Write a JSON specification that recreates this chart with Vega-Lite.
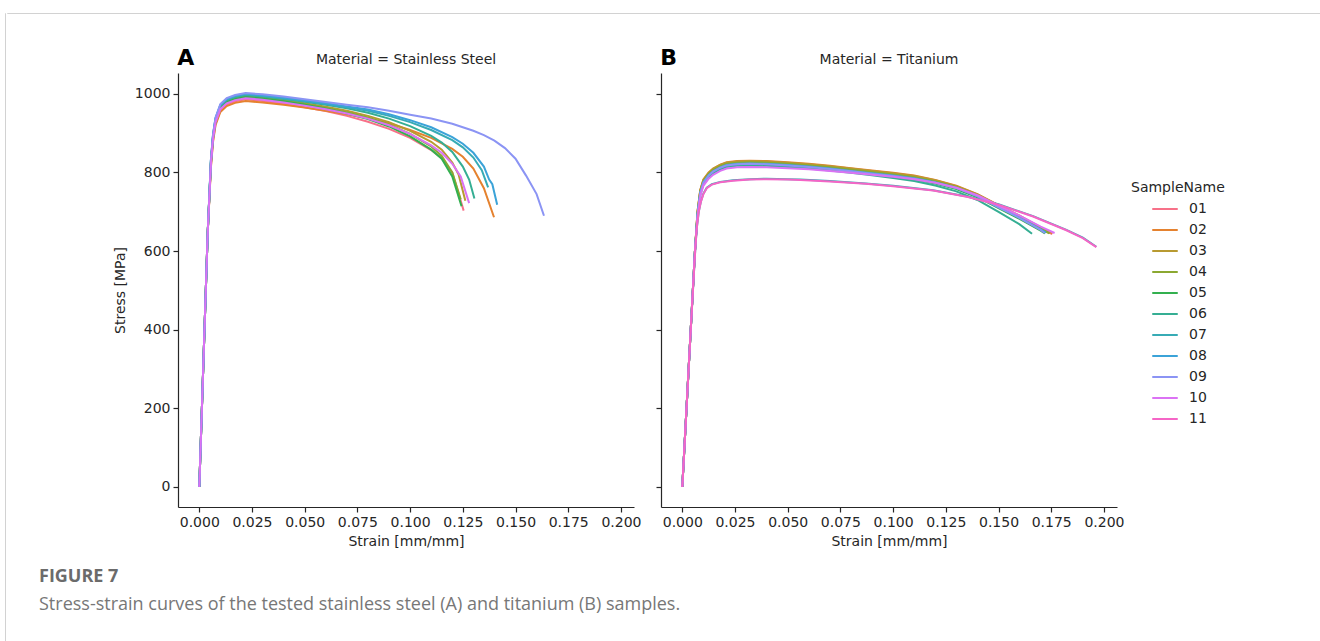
{
  "$schema": "https://vega.github.io/schema/vega-lite/v6.json",
  "background": "white",
  "padding": {"left": 4, "top": 12, "right": 0, "bottom": 0},
  "config": {
    "font": "DejaVu Sans",
    "view": {"stroke": null},
    "axis": {"grid": false, "domainColor": "#262626", "tickColor": "#262626", "labelColor": "#262626", "titleColor": "#262626", "labelFontSize": 14, "titleFontSize": 14, "titleFontWeight": "normal", "tickSize": 5, "domainWidth": 1.2, "tickWidth": 1.2, "labelPadding": 3, "labelFlush": false, "labelOverlap": false},
    "legend": {"symbolType": "stroke", "symbolStrokeWidth": 2, "symbolSize": 650, "labelFontSize": 14, "titleFontSize": 14, "titleFontWeight": "normal", "labelColor": "#262626", "titleColor": "#262626", "labelOffset": 10, "symbolOffset": 20, "titlePadding": 0, "rowPadding": 0},
    "title": {"fontWeight": "normal", "fontSize": 14, "color": "#262626"}
  },
  "data": {"values": [
    {"Material": "Stainless Steel", "SampleName": "01", "Strain": [0,0.002,0.004,0.0055,0.0065,0.0077,0.01,0.013,0.017,0.022,0.03,0.04,0.05,0.06,0.07,0.08,0.09,0.1,0.11,0.115,0.12,0.1254], "Stress": [0,324,648,816,881,924,958,973,981,986,982,975,966,956,944,929,911,888,857,836,800,703]},
    {"Material": "Stainless Steel", "SampleName": "02", "Strain": [0,0.002,0.004,0.0055,0.0065,0.0077,0.01,0.013,0.017,0.022,0.03,0.04,0.05,0.06,0.07,0.08,0.09,0.1,0.11,0.12,0.125,0.13,0.135,0.1398], "Stress": [0,324,648,812,877,920,954,969,977,982,978,972,965,957,948,938,925,908,888,860,840,810,760,686]},
    {"Material": "Stainless Steel", "SampleName": "03", "Strain": [0,0.002,0.004,0.0055,0.0065,0.0077,0.01,0.013,0.017,0.022,0.03,0.04,0.05,0.06,0.07,0.08,0.09,0.1,0.11,0.115,0.12,0.123,0.1262], "Stress": [0,324,648,824,889,932,966,981,989,994,990,984,976,967,957,944,928,906,878,858,825,795,728]},
    {"Material": "Stainless Steel", "SampleName": "04", "Strain": [0,0.002,0.004,0.0055,0.0065,0.0077,0.01,0.013,0.017,0.022,0.03,0.04,0.05,0.06,0.07,0.08,0.09,0.1,0.11,0.115,0.12,0.124], "Stress": [0,324,648,823,888,931,965,980,988,993,989,982,974,964,953,940,922,898,866,842,800,732]},
    {"Material": "Stainless Steel", "SampleName": "05", "Strain": [0,0.002,0.004,0.0055,0.0065,0.0077,0.01,0.013,0.017,0.022,0.03,0.04,0.05,0.06,0.07,0.08,0.09,0.1,0.11,0.115,0.12,0.1244], "Stress": [0,324,648,822,887,930,964,979,987,992,988,981,972,962,950,936,917,892,858,835,790,714]},
    {"Material": "Stainless Steel", "SampleName": "06", "Strain": [0,0.002,0.004,0.0055,0.0065,0.0077,0.01,0.013,0.017,0.022,0.03,0.04,0.05,0.06,0.07,0.08,0.09,0.1,0.11,0.115,0.12,0.125,0.128,0.1305], "Stress": [0,324,648,827,892,935,969,984,992,997,993,987,980,972,963,952,937,918,893,876,852,815,782,734]},
    {"Material": "Stainless Steel", "SampleName": "07", "Strain": [0,0.002,0.004,0.0055,0.0065,0.0077,0.01,0.013,0.017,0.022,0.03,0.04,0.05,0.06,0.07,0.08,0.09,0.1,0.11,0.12,0.125,0.13,0.134,0.137], "Stress": [0,324,648,829,894,937,971,986,994,999,995,989,982,974,966,957,944,928,908,882,864,838,806,762]},
    {"Material": "Stainless Steel", "SampleName": "08", "Strain": [0,0.002,0.004,0.0055,0.0065,0.0077,0.01,0.013,0.017,0.022,0.03,0.04,0.05,0.06,0.07,0.08,0.09,0.1,0.11,0.12,0.125,0.13,0.135,0.1375,0.139,0.1413], "Stress": [0,324,648,830,895,938,972,987,995,1000,996,990,983,976,968,960,948,933,915,890,873,850,815,782,770,718]},
    {"Material": "Stainless Steel", "SampleName": "09", "Strain": [0,0.002,0.004,0.0055,0.0065,0.0077,0.01,0.013,0.017,0.022,0.03,0.04,0.05,0.06,0.07,0.08,0.09,0.1,0.11,0.12,0.13,0.135,0.14,0.145,0.15,0.155,0.16,0.1635], "Stress": [0,324,648,832,897,940,974,989,997,1002,999,993,986,979,972,966,957,947,937,924,906,895,881,862,835,792,745,690]},
    {"Material": "Stainless Steel", "SampleName": "10", "Strain": [0,0.002,0.004,0.0055,0.0065,0.0077,0.01,0.013,0.017,0.022,0.03,0.04,0.05,0.06,0.07,0.08,0.09,0.1,0.11,0.115,0.12,0.124,0.128], "Stress": [0,324,648,819,884,927,961,976,984,989,985,978,970,961,950,937,920,898,869,850,822,790,722]},
    {"Material": "Titanium", "SampleName": "01", "Strain": [0,0.002,0.004,0.006,0.0072,0.0085,0.01,0.0125,0.0146,0.018,0.021,0.026,0.032,0.04,0.05,0.06,0.07,0.08,0.09,0.1,0.11,0.12,0.13,0.14,0.15,0.16,0.17,0.1755], "Stress": [0,200,400,600,697,752,779,797,807,817,823,826,827,826,823,819,814,808,802,796,789,778,764,743,715,688,658,643]},
    {"Material": "Titanium", "SampleName": "02", "Strain": [0,0.002,0.004,0.006,0.0072,0.0085,0.01,0.0125,0.0146,0.018,0.021,0.026,0.032,0.04,0.05,0.06,0.07,0.08,0.09,0.1,0.11,0.12,0.13,0.14,0.15,0.16,0.17,0.1755], "Stress": [0,200,400,600,700,755,782,800,810,820,826,829,830,829,826,822,817,811,805,799,792,781,766,745,717,690,660,645]},
    {"Material": "Titanium", "SampleName": "03", "Strain": [0,0.002,0.004,0.006,0.0072,0.0085,0.01,0.0125,0.0146,0.018,0.021,0.026,0.032,0.04,0.05,0.06,0.07,0.08,0.09,0.1,0.11,0.12,0.13,0.14,0.15,0.16,0.17,0.1745], "Stress": [0,200,400,600,699,754,781,799,809,819,825,828,829,828,825,821,816,810,804,798,791,780,765,744,716,689,659,646]},
    {"Material": "Titanium", "SampleName": "04", "Strain": [0,0.002,0.004,0.006,0.0072,0.0085,0.01,0.0125,0.0146,0.018,0.021,0.026,0.032,0.04,0.05,0.06,0.07,0.08,0.09,0.1,0.11,0.12,0.13,0.14,0.15,0.16,0.17,0.174], "Stress": [0,200,400,600,696,751,778,796,806,816,822,825,826,825,822,818,813,807,801,795,788,777,763,742,714,687,657,645]},
    {"Material": "Titanium", "SampleName": "05", "Strain": [0,0.002,0.004,0.006,0.0072,0.0085,0.01,0.0125,0.0146,0.018,0.021,0.026,0.032,0.04,0.05,0.06,0.07,0.08,0.09,0.1,0.11,0.12,0.13,0.14,0.15,0.16,0.17,0.172], "Stress": [0,200,400,600,690,745,772,790,800,810,816,819,820,819,816,812,807,801,795,789,782,772,758,737,709,682,652,645]},
    {"Material": "Titanium", "SampleName": "06", "Strain": [0,0.002,0.004,0.006,0.0072,0.0085,0.01,0.0125,0.0146,0.018,0.021,0.026,0.032,0.04,0.05,0.06,0.07,0.08,0.09,0.1,0.11,0.12,0.13,0.14,0.15,0.16,0.1659], "Stress": [0,200,400,600,688,743,770,788,798,808,814,817,818,817,814,810,805,799,793,786,778,767,752,730,700,668,644]},
    {"Material": "Titanium", "SampleName": "07", "Strain": [0,0.002,0.004,0.006,0.0068,0.0078,0.0088,0.01,0.0116,0.014,0.018,0.024,0.032,0.04,0.05,0.056,0.07,0.087,0.1,0.119,0.135,0.15,0.1664,0.1822,0.19,0.1964], "Stress": [0,200,400,590,655,700,726,746,761,770,776,780,783,784,783,782,778,772,766,755,739,719,689,654,634,611]},
    {"Material": "Titanium", "SampleName": "08", "Strain": [0,0.002,0.004,0.006,0.0072,0.0085,0.01,0.0125,0.0146,0.018,0.021,0.026,0.032,0.04,0.05,0.06,0.07,0.08,0.09,0.1,0.11,0.12,0.13,0.14,0.15,0.16,0.17,0.1725], "Stress": [0,200,400,600,693,748,775,793,803,813,819,822,823,822,819,815,810,804,798,792,785,775,761,740,712,685,655,647]},
    {"Material": "Titanium", "SampleName": "09", "Strain": [0,0.002,0.004,0.006,0.0072,0.0085,0.01,0.0125,0.0146,0.018,0.021,0.026,0.032,0.04,0.05,0.06,0.07,0.08,0.09,0.1,0.11,0.12,0.13,0.14,0.15,0.16,0.17,0.1719], "Stress": [0,200,400,600,692,747,774,792,802,812,818,821,822,821,818,814,809,803,797,791,784,774,760,739,711,684,654,646]},
    {"Material": "Titanium", "SampleName": "10", "Strain": [0,0.002,0.004,0.006,0.0072,0.0085,0.01,0.0125,0.0146,0.018,0.021,0.026,0.032,0.04,0.05,0.06,0.07,0.08,0.09,0.1,0.11,0.12,0.13,0.14,0.15,0.16,0.17,0.1766], "Stress": [0,200,400,600,684,739,766,784,794,804,810,813,814,813,811,808,804,799,794,789,783,774,761,742,716,690,662,646]},
    {"Material": "Titanium", "SampleName": "11", "Strain": [0,0.002,0.004,0.006,0.0068,0.0078,0.0088,0.01,0.0116,0.014,0.018,0.024,0.032,0.04,0.05,0.056,0.07,0.087,0.1,0.119,0.135,0.15,0.1664,0.1822,0.19,0.1964], "Stress": [0,200,400,590,655,700,725,745,760,769,775,779,782,783,782,781,777,771,765,754,738,718,688,653,633,610]}
  ]},
  "transform": [{"flatten": ["Strain", "Stress"]}],
  "spacing": 0,
  "hconcat": [
    {
      "width": 0.01, "height": 629,
      "data": {"values": []},
      "mark": {"type": "text"},
      "view": {"stroke": "#d2d2d2", "strokeWidth": 1}
    },
    {
      "spacing": 32,
      "vconcat": [
        {
          "width": 1316, "height": 0.01,
          "data": {"values": []},
          "mark": {"type": "text"},
          "view": {"stroke": "#d2d2d2", "strokeWidth": 1}
        },
        {
          "spacing": 27,
          "bounds": "flush",
          "title": {"text": "FIGURE 7", "subtitle": "Stress-strain curves of the tested stainless steel (A) and titanium (B) samples.", "orient": "bottom", "anchor": "start", "font": "Open Sans", "fontSize": 18, "fontWeight": "bold", "color": "#6b6b6b", "subtitleFont": "Open Sans", "subtitleFontSize": 18, "subtitleColor": "#777777", "offset": 20, "subtitlePadding": 10, "dx": 32},
          "hconcat": [
            {
              "width": 143.7, "height": 434,
              "data": {"values": []},
              "mark": {"type": "text"}
            },
            {
              "width": 456, "height": 434,
              "title": {"text": "Material = Stainless Steel", "anchor": "middle", "offset": 8, "dy": 28},
              "layer": [
                {
                  "transform": [{"filter": "datum.Material === 'Stainless Steel'"}],
                  "mark": {"type": "line", "strokeWidth": 2},
                  "encoding": {
                    "x": {"field": "Strain", "type": "quantitative", "scale": {"domain": [-0.0101, 0.2062], "nice": false, "zero": false}, "axis": {"title": "Strain [mm/mm]", "values": [0, 0.025, 0.05, 0.075, 0.1, 0.125, 0.15, 0.175, 0.2], "format": ".3f", "titlePadding": 5}},
                    "y": {"field": "Stress", "type": "quantitative", "scale": {"domain": [-51, 1053], "nice": false, "zero": false}, "axis": {"title": "Stress [MPa]", "values": [0, 200, 400, 600, 800, 1000], "format": "d", "titlePadding": 7}},
                    "color": {"field": "SampleName", "type": "nominal", "scale": {"domain": ["01","02","03","04","05","06","07","08","09","10","11"], "range": ["#f77189","#e5822f","#b89a31","#8ba831","#33b04f","#35ae93","#37abb5","#3ba3d8","#8b94f4","#db72f4","#f565c6"]}, "legend": {"title": "SampleName", "orient": "none", "legendX": 1126, "legendY": 168}}
                  }
                },
                {
                  "data": {"values": [{"label": "A"}]},
                  "mark": {"type": "text", "fontSize": 22, "fontWeight": "bold", "align": "left", "baseline": "alphabetic", "color": "#000000"},
                  "encoding": {"x": {"datum": -0.0105, "type": "quantitative"}, "y": {"datum": 1074, "type": "quantitative"}, "text": {"field": "label"}}
                }
              ]
            },
            {
              "width": 456, "height": 434,
              "title": {"text": "Material = Titanium", "anchor": "middle", "offset": 8, "dy": 28},
              "layer": [
                {
                  "transform": [{"filter": "datum.Material === 'Titanium'"}],
                  "mark": {"type": "line", "strokeWidth": 2},
                  "encoding": {
                    "x": {"field": "Strain", "type": "quantitative", "scale": {"domain": [-0.0101, 0.2062], "nice": false, "zero": false}, "axis": {"title": "Strain [mm/mm]", "values": [0, 0.025, 0.05, 0.075, 0.1, 0.125, 0.15, 0.175, 0.2], "format": ".3f", "titlePadding": 5}},
                    "y": {"field": "Stress", "type": "quantitative", "scale": {"domain": [-51, 1053], "nice": false, "zero": false}, "axis": {"title": null, "labels": false, "values": [0, 200, 400, 600, 800, 1000]}},
                    "color": {"field": "SampleName", "type": "nominal", "scale": {"domain": ["01","02","03","04","05","06","07","08","09","10","11"], "range": ["#f77189","#e5822f","#b89a31","#8ba831","#33b04f","#35ae93","#37abb5","#3ba3d8","#8b94f4","#db72f4","#f565c6"]}, "legend": {"title": "SampleName", "orient": "none", "legendX": 1126, "legendY": 168}}
                  }
                },
                {
                  "data": {"values": [{"label": "B"}]},
                  "mark": {"type": "text", "fontSize": 22, "fontWeight": "bold", "align": "left", "baseline": "alphabetic", "color": "#000000"},
                  "encoding": {"x": {"datum": -0.0105, "type": "quantitative"}, "y": {"datum": 1074, "type": "quantitative"}, "text": {"field": "label"}}
                }
              ]
            }
          ]
        }
      ]
    }
  ]
}
